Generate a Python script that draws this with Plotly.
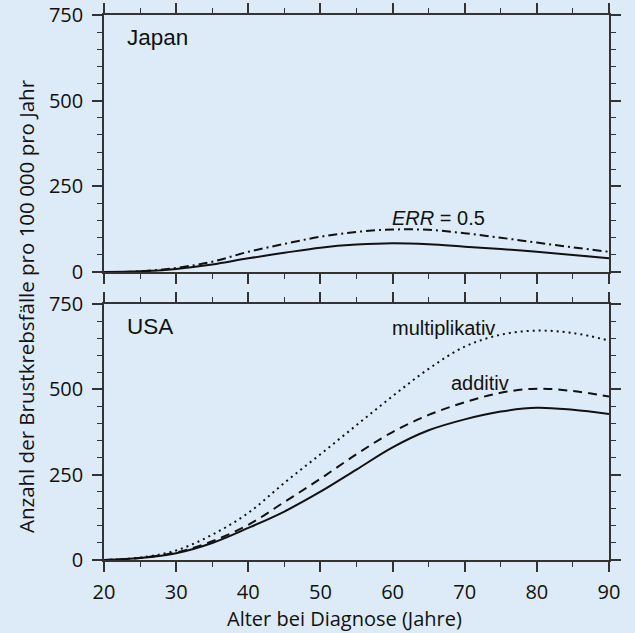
import plotly.graph_objects as go
from plotly.subplots import make_subplots

ages = [20, 25, 30, 35, 40, 45, 50, 55, 60, 65, 70, 75, 80, 85, 90]

# Japan (top panel)
japan_base = [0, 2, 9, 22, 40, 56, 71, 80, 84, 81, 74, 67, 59, 50, 40]
japan_err05 = [0, 2, 12, 30, 59, 82, 103, 117, 124, 123, 113, 100, 86, 72, 59]

# USA (bottom panel)
usa_base = [0, 6, 20, 50, 94, 142, 200, 265, 330, 380, 412, 435, 446, 440, 428]
usa_additiv = [0, 6, 22, 55, 103, 170, 238, 310, 375, 425, 462, 490, 502, 495, 479]
usa_multiplikativ = [0, 7, 28, 74, 138, 226, 310, 395, 480, 560, 625, 660, 672, 665, 643]

x_ticks = [20, 30, 40, 50, 60, 70, 80, 90]
y_ticks = [0, 250, 500, 750]

BG = "#ddeaf7"
INK = "#111111"
AXC = "#333333"
TICKFONT = dict(family="Open Sans, Noto Sans, sans-serif", size=20, color=INK)
TITLEFONT = dict(family="Open Sans, Noto Sans, sans-serif", size=20.5, color=INK)
XTITLEFONT = dict(family="Open Sans, Noto Sans, sans-serif", size=20, color=INK)
LBLFONT = dict(family="Liberation Sans, Arial, sans-serif", size=20, color=INK)
PANELFONT = dict(family="Liberation Sans, Arial, sans-serif", size=22.5, color=INK)

fig = make_subplots(rows=2, cols=1, vertical_spacing=0.0587, row_heights=[0.501, 0.499])

lw = 2
fig.add_trace(go.Scatter(x=ages, y=japan_base, mode="lines", line=dict(color=INK, width=lw, shape="spline")), row=1, col=1)
fig.add_trace(go.Scatter(x=ages, y=japan_err05, mode="lines", line=dict(color=INK, width=lw, dash="9px,4px,2px,4px", shape="spline")), row=1, col=1)
fig.add_trace(go.Scatter(x=ages, y=usa_base, mode="lines", line=dict(color=INK, width=lw, shape="spline")), row=2, col=1)
fig.add_trace(go.Scatter(x=ages, y=usa_additiv, mode="lines", line=dict(color=INK, width=lw, dash="9px,6px", shape="spline")), row=2, col=1)
fig.add_trace(go.Scatter(x=ages, y=usa_multiplikativ, mode="lines", line=dict(color=INK, width=lw, dash="2px,4px", shape="spline")), row=2, col=1)

common_x = dict(range=[20, 90], tickmode="array", tickvals=x_ticks, ticktext=[str(v) for v in x_ticks],
                ticks="outside", ticklen=10, tickwidth=1.5,
                tickcolor=AXC, showline=True, linecolor=AXC, linewidth=1.5, mirror="allticks",
                showgrid=False, zeroline=False, tickfont=TICKFONT, automargin=False,
                minor=dict(tickmode="linear", dtick=5, tick0=20, ticks="outside", ticklen=5, tickwidth=1.2,
                           tickcolor=AXC, showgrid=False))
common_y = dict(range=[0, 750], tickmode="array", tickvals=y_ticks, ticktext=[str(v) for v in y_ticks],
                ticks="outside", ticklen=10, tickwidth=1.5,
                tickcolor=AXC, showline=True, linecolor=AXC, linewidth=1.5, mirror="allticks",
                showgrid=False, zeroline=False, tickfont=TICKFONT, ticklabelstandoff=5, automargin=False,
                minor=dict(tickmode="linear", dtick=50, tick0=0, ticks="outside", ticklen=5, tickwidth=1.2,
                           tickcolor=AXC, showgrid=False))

fig.update_xaxes(**common_x)
fig.update_yaxes(**common_y)
fig.update_xaxes(showticklabels=False, row=1, col=1)
fig.update_xaxes(ticklabelstandoff=3, row=2, col=1)

annos = [
    dict(text="Japan", x=22.9, y=684, xref="x", yref="y", xanchor="left", yanchor="middle", font=PANELFONT),
    dict(text="USA", x=22.9, y=684, xref="x2", yref="y2", xanchor="left", yanchor="middle", font=PANELFONT),
    dict(text="<i>ERR</i> = 0.5", x=66.3, y=158, xref="x", yref="y", xanchor="center", yanchor="middle", font=LBLFONT),
    dict(text="multiplikativ", x=67.0, y=680, xref="x2", yref="y2", xanchor="center", yanchor="middle", font=LBLFONT),
    dict(text="additiv", x=72.1, y=519, xref="x2", yref="y2", xanchor="center", yanchor="middle", font=LBLFONT),
    dict(text="Alter bei Diagnose (Jahre)", x=0.477, y=-0.1075, xref="paper", yref="paper",
         xanchor="center", yanchor="middle", font=XTITLEFONT),
    dict(text="Anzahl der Brustkrebsfälle pro 100 000 pro Jahr", x=-0.1545, y=0.466, xref="paper", yref="paper",
         xanchor="center", yanchor="middle", textangle=-90, font=TITLEFONT),
]
for a in annos:
    a["showarrow"] = False
    fig.add_annotation(**a)

fig.update_layout(width=635, height=633, margin=dict(l=104, r=26, t=15, b=73),
                  paper_bgcolor=BG, plot_bgcolor=BG, showlegend=False)

fig.write_html("out.html")
